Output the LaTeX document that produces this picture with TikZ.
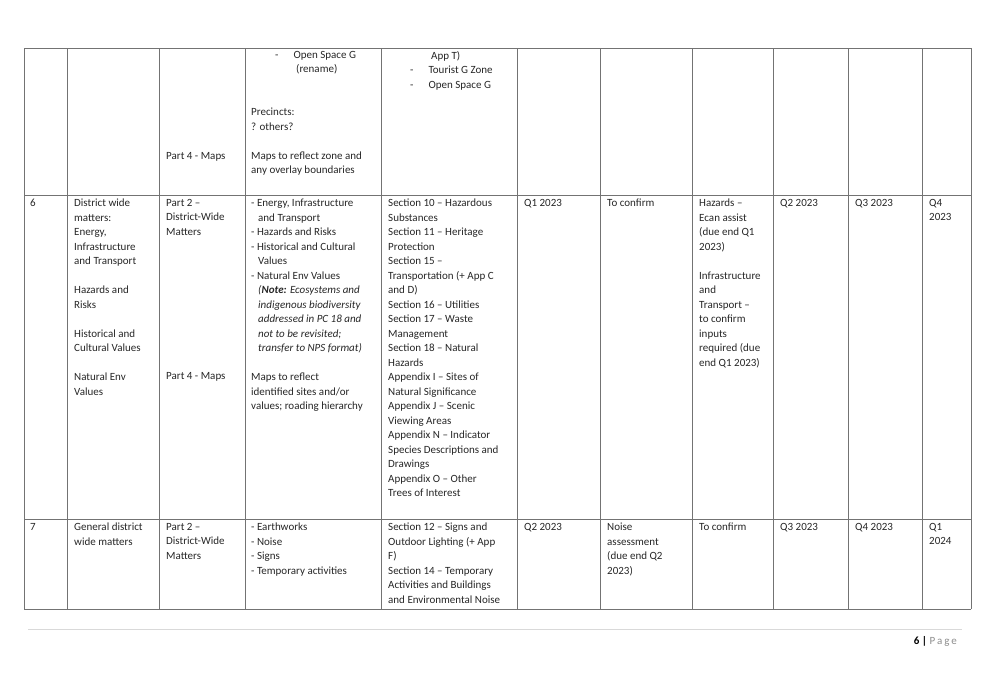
\documentclass[tikz,border=0pt]{standalone}
\usepackage{fontspec}
\setmainfont{Carlito}
\begin{document}
\begin{tikzpicture}[x=1pt,y=-1pt,
  cell/.style={anchor=north west,inner sep=0pt,align=left,font=\fontsize{11}{14.5}\selectfont,text=black!85},
  grid/.style={draw=black!55,line width=0.7pt}]
\useasboundingbox (0,0) rectangle (991,694);
\newcommand{\ind}{\hspace*{7pt}}
\newcommand{\bul}{-\hspace*{15pt}}
% grid
\foreach \x in {24,67,159,245,381,517,600,692,773,848,922,971}
  \draw[grid] (\x,48) -- (\x,609);
\foreach \y in {48,195,519,609}
  \draw[grid] (24,\y) -- (971,\y);
% row 1 (continued)
\node[cell] (r1c3) at (166,152) {Part 4 - Maps};
\node[cell] (r1c4a) at (275,51) {\bul Open Space G\\\hspace*{21pt}(rename)};
\node[cell] (r1c4b) at (251,108) {Precincts:\\? others?\\[14.5pt]Maps to reflect zone and\\any overlay boundaries};
\node[cell] (r1c5) at (410,51) {\hspace*{21pt}App T)\\\bul Tourist G Zone\\\bul Open Space G};
% row 6
\def\ry{199}
\node[cell] (r6c1) at (30,\ry) {6};
\node[cell] (r6c2) at (74,\ry) {District wide\\matters:\\Energy,\\Infrastructure\\and Transport\\[14.5pt]Hazards and\\Risks\\[14.5pt]Historical and\\Cultural Values\\[14.5pt]Natural Env\\Values};
\node[cell] (r6c3) at (166,\ry) {Part 2 --\\District-Wide\\Matters};
\node[cell] (r6c3b) at (166,372) {Part 4 - Maps};
\node[cell] (r6c4) at (251,\ry) {- Energy, Infrastructure\\\ind and Transport\\- Hazards and Risks\\- Historical and Cultural\\\ind Values\\- Natural Env Values\\\ind\textit{(\textbf{Note:} Ecosystems and}\\\ind\textit{indigenous biodiversity}\\\ind\textit{addressed in PC 18 and}\\\ind\textit{not to be revisited;}\\\ind\textit{transfer to NPS format)}\\[14.5pt]Maps to reflect\\identified sites and/or\\values; roading hierarchy};
\node[cell] (r6c5) at (388,\ry) {Section 10 -- Hazardous\\Substances\\Section 11 -- Heritage\\Protection\\Section 15 --\\Transportation (+ App C\\and D)\\Section 16 -- Utilities\\Section 17 -- Waste\\Management\\Section 18 -- Natural\\Hazards\\Appendix I -- Sites of\\Natural Significance\\Appendix J -- Scenic\\Viewing Areas\\Appendix N -- Indicator\\Species Descriptions and\\Drawings\\Appendix O -- Other\\Trees of Interest};
\node[cell] (r6c6) at (524,\ry) {Q1 2023};
\node[cell] (r6c7) at (607,\ry) {To confirm};
\node[cell] (r6c8) at (699,\ry) {Hazards --\\Ecan assist\\(due end Q1\\2023)\\[14.5pt]Infrastructure\\and\\Transport --\\to confirm\\inputs\\required (due\\end Q1 2023)};
\node[cell] (r6c9) at (780,\ry) {Q2 2023};
\node[cell] (r6c10) at (855,\ry) {Q3 2023};
\node[cell] (r6c11) at (929,\ry) {Q4\\2023};
% row 7
\def\ry{523}
\node[cell] (r7c1) at (30,\ry) {7};
\node[cell] (r7c2) at (74,\ry) {General district\\wide matters};
\node[cell] (r7c3) at (166,\ry) {Part 2 --\\District-Wide\\Matters};
\node[cell] (r7c4) at (251,\ry) {- Earthworks\\- Noise\\- Signs\\- Temporary activities};
\node[cell] (r7c5) at (388,\ry) {Section 12 -- Signs and\\Outdoor Lighting (+ App\\F)\\Section 14 -- Temporary\\Activities and Buildings\\and Environmental Noise};
\node[cell] (r7c6) at (524,\ry) {Q2 2023};
\node[cell] (r7c7) at (607,\ry) {Noise\\assessment\\(due end Q2\\2023)};
\node[cell] (r7c8) at (699,\ry) {To confirm};
\node[cell] (r7c9) at (780,\ry) {Q3 2023};
\node[cell] (r7c10) at (855,\ry) {Q4 2023};
\node[cell] (r7c11) at (929,\ry) {Q1\\2024};
% footer
\draw[draw=black!15,line width=0.6pt] (28,629) -- (962,629);
\node[anchor=base east,inner sep=0pt,font=\fontsize{11}{13}\selectfont] (pg) at (957,644)
  {\textbf{6 |} \textcolor{black!45}{P\,a\,g\,e}};
\end{tikzpicture}
\end{document}
